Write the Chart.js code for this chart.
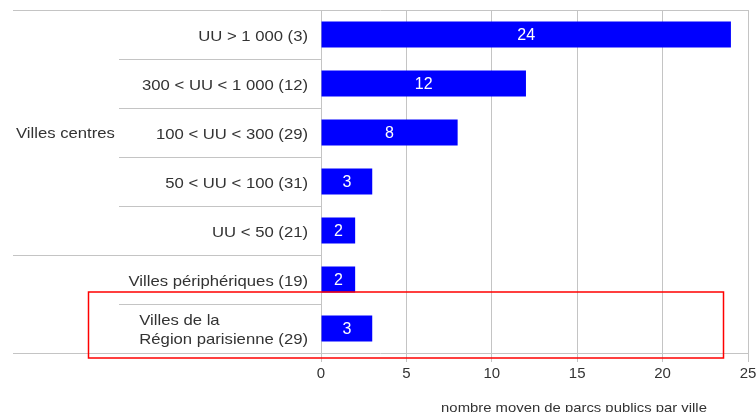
<!DOCTYPE html>
<html>
<head>
<meta charset="utf-8">
<script src="https://cdn.jsdelivr.net/npm/chart.js@4"></script>
<style>
  html, body { margin: 0; padding: 0; background: #fff; }
  canvas { display: block; }
</style>
</head>
<body>
<canvas id="chart" width="756" height="412"></canvas>
<script>
// catégories de villes (nombre de villes entre parenthèses)
const categories = [
    'UU > 1 000 (3)',
    '300 < UU < 1 000 (12)',
    '100 < UU < 300 (29)',
    '50 < UU < 100 (31)',
    'UU < 50 (21)',
    'Villes périphériques (19)',
    ['Villes de la', 'Région parisienne (29)']
];
const groups = ['Villes centres', 'Villes centres', 'Villes centres', 'Villes centres', 'Villes centres', '', ''];
const parcs = [24, 12, 8, 3, 2, 2, 3];
const encadre = [false, false, false, false, false, false, true];
const xTicks = [0, 5, 10, 15, 20, 25];
const xTitle = 'nombre moyen de parcs publics par ville';

const FONT = '"Liberation Sans", Arial, sans-serif';
const GRID = '#c4c4c4';
const TEXT = '#333';
const STRETCH = 1.15; // police un peu élargie

// texte étiré horizontalement
function drawText(ctx, txt, x, y, align, sx) {
    ctx.save();
    ctx.translate(x, y);
    ctx.scale(sx, 1);
    ctx.textAlign = align;
    ctx.fillText(txt, 0, 0);
    ctx.restore();
}

// libellés, séparateurs, groupes et cadre rouge dessinés à la main
const tableau = {
    id: 'tableau',
    afterDraw(chart) {
        const ctx = chart.ctx;
        const area = chart.chartArea;
        const x = chart.scales.x;
        const y = chart.scales.y;
        const band = (y.getPixelForValue(1) - y.getPixelForValue(0));
        const xLeft = 13, xSub = 119, xLab = 308;

        ctx.save();
        ctx.strokeStyle = GRID;
        ctx.lineWidth = 1;
        const hline = (x0, x1, yy) => {
            ctx.beginPath();
            ctx.moveTo(x0, Math.round(yy) + 0.5);
            ctx.lineTo(x1, Math.round(yy) + 0.5);
            ctx.stroke();
        };
        hline(xLeft, area.right, area.top);
        hline(xLeft, area.right, area.bottom);
        for (let i = 0; i < categories.length - 1; i++) {
            const yy = y.getPixelForValue(i) + band / 2;
            const x0 = groups[i] !== groups[i + 1] ? xLeft : xSub;
            hline(x0, area.left, yy);
        }

        // libellés des catégories
        ctx.fillStyle = TEXT;
        ctx.font = '14.5px ' + FONT;
        ctx.textBaseline = 'middle';
        categories.forEach((lab, i) => {
            const cy = y.getPixelForValue(i) + 2;
            if (Array.isArray(lab)) {
                const w = Math.max(...lab.map(l => ctx.measureText(l).width)) * STRETCH;
                const lh = 18.5;
                lab.forEach((l, k) => {
                    drawText(ctx, l, xLab - w, cy + (k - (lab.length - 1) / 2) * lh, 'left', STRETCH);
                });
            } else {
                drawText(ctx, lab, xLab, cy, 'right', STRETCH);
            }
        });

        // libellés de groupe
        let start = 0;
        for (let i = 1; i <= groups.length; i++) {
            if (i === groups.length || groups[i] !== groups[start]) {
                if (groups[start]) {
                    const cy = (y.getPixelForValue(start) + y.getPixelForValue(i - 1)) / 2;
                    drawText(ctx, groups[start], 16, cy + 1, 'left', STRETCH);
                }
                start = i;
            }
        }

        // graduations de l'axe x
        ctx.font = '15px ' + FONT;
        ctx.textAlign = 'center';
        xTicks.forEach(v => {
            ctx.fillText(String(v), x.getPixelForValue(v), 374);
        });

        // valeurs dans les barres
        const meta = chart.getDatasetMeta(0);
        ctx.fillStyle = '#fff';
        ctx.font = '16px ' + FONT;
        meta.data.forEach((bar, i) => {
            ctx.fillText(String(parcs[i]), (bar.base + bar.x) / 2, bar.y + 1);
        });

        // titre de l'axe
        ctx.fillStyle = TEXT;
        ctx.font = '13.5px ' + FONT;
        drawText(ctx, xTitle, 574, 408, 'center', 1.1);

        // cadre rouge
        ctx.strokeStyle = '#ff0000';
        ctx.lineWidth = 1.5;
        encadre.forEach((on, i) => {
            if (!on) return;
            const top = y.getPixelForValue(i) - band / 2 - 12;
            const bottom = y.getPixelForValue(i) + band / 2 + 5;
            ctx.strokeRect(88.5, top, 635, bottom - top);
        });
        ctx.restore();
    }
};

new Chart(document.getElementById('chart').getContext('2d'), {
    type: 'bar',
    data: {
        labels: categories,
        datasets: [{
            data: parcs,
            backgroundColor: '#0000ff',
            borderWidth: 0,
            barPercentage: 0.53,
            categoryPercentage: 1
        }]
    },
    plugins: [tableau],
    options: {
        indexAxis: 'y',
        responsive: false,
        animation: false,
        layout: { padding: { left: 13, right: 8, top: 10, bottom: 0 } },
        plugins: {
            legend: { display: false },
            tooltip: { enabled: false }
        },
        scales: {
            x: {
                min: 0,
                max: 25,
                afterBuildTicks: (scale) => { scale.ticks = xTicks.map(v => ({ value: v })); },
                afterFit: (scale) => { scale.height = 59; },
                grid: { color: GRID, tickLength: 9, drawTicks: true, tickColor: GRID },
                border: { display: false },
                ticks: { display: false }
            },
            y: {
                afterFit: (scale) => { scale.width = 308; },
                grid: { display: false },
                border: { display: false },
                ticks: { display: false }
            }
        }
    }
});
</script>
</body>
</html>
